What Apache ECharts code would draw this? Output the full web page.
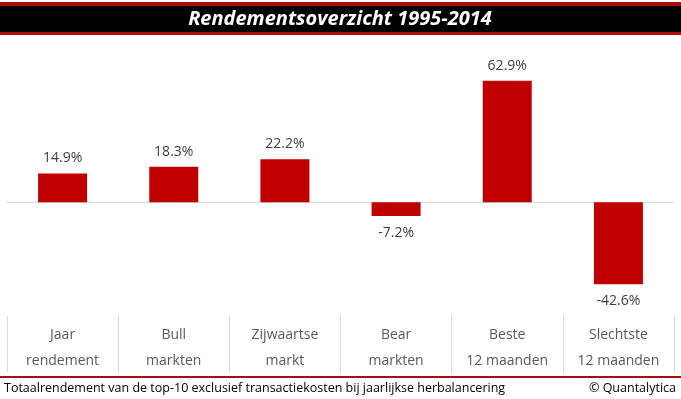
<!DOCTYPE html>
<html>
<head>
<meta charset="utf-8">
<script src="https://cdn.jsdelivr.net/npm/echarts@6/dist/echarts.min.js"></script>
<style>
  html, body { margin: 0; padding: 0; background: #fff; }
  #chart { width: 681px; height: 399px; }
</style>
</head>
<body>
<div id="chart"></div>
<script>
// categorieën en rendementen (%)
var categories = ["Jaar\nrendement", "Bull\nmarkten", "Zijwaartse\nmarkt", "Bear\nmarkten", "Beste\n12 maanden", "Slechtste\n12 maanden"];
var returns = [14.9, 18.3, 22.2, -7.2, 62.9, -42.6];

var title = "Rendementsoverzicht 1995-2014";
var footnote = "Totaalrendement van de top-10 exclusief transactiekosten bij jaarlijkse herbalancering";
var credit = "© Quantalytica";

var chart = echarts.init(document.getElementById("chart"));

var option = {
  animation: false,
  grid: { left: 7, right: 7, top: 40, bottom: 27 },
  xAxis: [
    {
      // lijn op nul
      type: "category",
      data: categories,
      axisLine: { onZero: true, lineStyle: { color: "#d9d9d9", width: 1 } },
      axisTick: { show: false },
      axisLabel: { show: false }
    },
    {
      // labels in vakjes onderaan
      type: "category",
      data: categories,
      position: "bottom",
      axisLine: { onZero: false, show: false },
      axisTick: { show: true, inside: true, length: 56, lineStyle: { color: "#d9d9d9" } },
      axisLabel: {
        inside: true,
        margin: -2,
        verticalAlign: "bottom",
        color: "#595959",
        fontFamily: "Open Sans",
        fontSize: 14,
        lineHeight: 26
      }
    }
  ],
  yAxis: {
    type: "value",
    min: -88,
    max: 84,
    show: false,
    splitLine: { show: false }
  },
  series: [
    {
      type: "bar",
      xAxisIndex: 0,
      barWidth: 49,
      data: returns.map(function (v) {
        return {
          value: v,
          label: v >= 0 ? { position: "top", distance: 8 } : { position: "bottom", distance: 10 }
        };
      }),
      itemStyle: { color: "#c00000" },
      label: {
        show: true,
        color: "#404040",
        fontFamily: "Open Sans",
        fontSize: 14,
        formatter: function (p) {
          return p.value.toFixed(1) + "%";
        }
      }
    }
  ],
  graphic: [
    // titelbalk
    { type: "rect", shape: { x: 0, y: 2, width: 681, height: 33 }, style: { fill: "#a80c0c" }, silent: true },
    { type: "rect", shape: { x: 0, y: 6, width: 681, height: 26 }, style: { fill: "#000" }, silent: true },
    {
      type: "text",
      x: 340,
      y: 19,
      style: {
        text: title,
        fill: "#fff",
        font: "italic bold 20px 'Open Sans'",
        align: "center",
        verticalAlign: "middle"
      },
      silent: true
    },
    // rode lijn boven voetnoot
    { type: "rect", shape: { x: 0, y: 376, width: 681, height: 2 }, style: { fill: "#a80c0c" }, silent: true },
    {
      type: "text",
      x: 4,
      y: 388,
      style: {
        text: footnote,
        fill: "#000",
        font: "12.5px 'Open Sans'",
        verticalAlign: "middle"
      },
      silent: true
    },
    {
      type: "text",
      x: 676,
      y: 388,
      style: {
        text: credit,
        fill: "#000",
        font: "12.5px 'Open Sans'",
        align: "right",
        verticalAlign: "middle"
      },
      silent: true
    }
  ]
};

chart.setOption(option);
</script>
</body>
</html>
